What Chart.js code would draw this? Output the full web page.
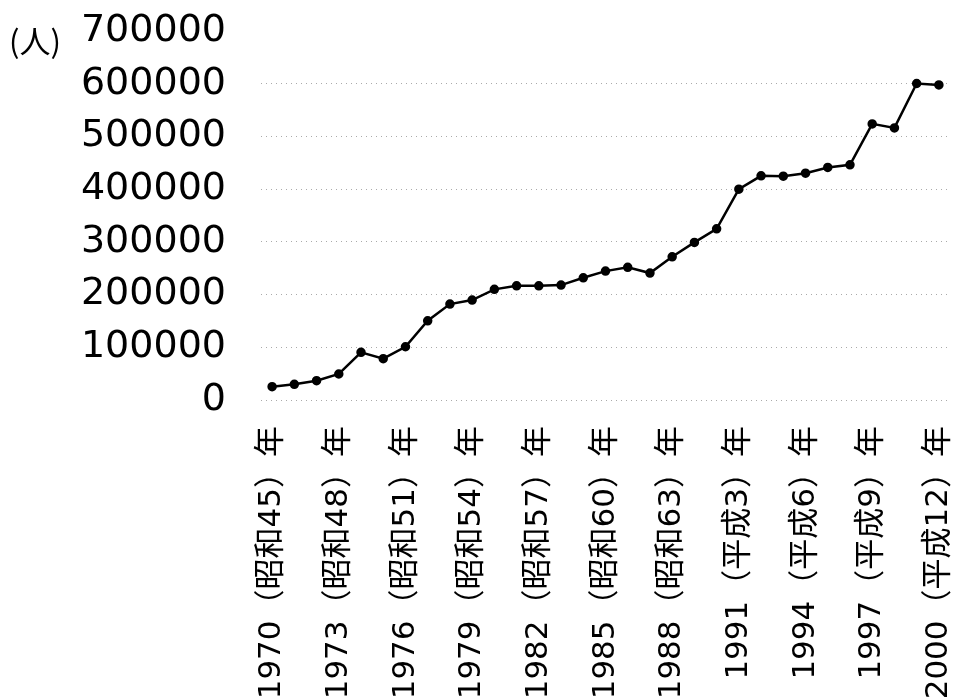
<!DOCTYPE html>
<html>
<head>
<meta charset="utf-8">
<script src="https://cdn.jsdelivr.net/npm/chart.js@4"></script>
<style>
  html, body { margin: 0; padding: 0; background: #fff; }
  #wrap { width: 957px; height: 700px; }
</style>
</head>
<body>
<div id="wrap"><canvas id="chart" width="957" height="700"></canvas></div>
<script>
const years = [
  1970, 1971, 1972, 1973, 1974, 1975, 1976, 1977, 1978, 1979,
  1980, 1981, 1982, 1983, 1984, 1985, 1986, 1987, 1988, 1989,
  1990, 1991, 1992, 1993, 1994, 1995, 1996, 1997, 1998, 1999, 2000
];
const eraLabels = [
  "昭和45", "昭和46", "昭和47", "昭和48", "昭和49", "昭和50", "昭和51", "昭和52", "昭和53", "昭和54",
  "昭和55", "昭和56", "昭和57", "昭和58", "昭和59", "昭和60", "昭和61", "昭和62", "昭和63", "平成1",
  "平成2", "平成3", "平成4", "平成5", "平成6", "平成7", "平成8", "平成9", "平成10", "平成11", "平成12"
];
const people = [
  25200, 29800, 36600, 49300, 90400, 78300, 101000, 150300, 182000, 189600,
  209900, 216700, 216700, 218000, 231800, 244500, 251600, 240800, 271700, 299000,
  324700, 400000, 425200, 424600, 430300, 441100, 446100, 523800, 516200, 600400, 597700
];
const yMax = 700000;
const yStep = 100000;
const unitLabel = "(人)";

const fontLatin = '"DejaVu Sans", "Noto Sans CJK JP", sans-serif';

// draws the unit label to the left of the top tick
const unitPlugin = {
  id: "unitLabel",
  afterDraw(chart) {
    const y = chart.scales.y;
    const ctx = chart.ctx;
    ctx.save();
    ctx.font = '31px "Noto Sans CJK JP", sans-serif';
    ctx.fillStyle = "#000";
    ctx.textAlign = "left";
    ctx.textBaseline = "middle";
    ctx.fillText(unitLabel, 9, y.getPixelForValue(yMax) + 10);
    ctx.restore();
  }
};

new Chart(document.getElementById("chart"), {
  type: "line",
  data: {
    labels: years,
    datasets: [{
      data: people,
      borderColor: "#000",
      backgroundColor: "#000",
      borderWidth: 2.5,
      pointRadius: 3.5,
      pointHoverRadius: 3.5,
      tension: 0
    }]
  },
  options: {
    responsive: false,
    animation: false,
    layout: { padding: { top: 31, right: 7, left: 0, bottom: 0 } },
    plugins: {
      legend: { display: false },
      tooltip: { enabled: false }
    },
    scales: {
      x: {
        offset: true,
        grid: { display: false, drawTicks: false },
        border: { display: false },
        afterFit(scale) {
          scale.height = 300;
          scale.paddingLeft = 0;
          scale.paddingRight = 0;
        },
        ticks: {
          autoSkip: false,
          maxRotation: 90,
          minRotation: 90,
          padding: 26,
          color: "#000",
          font: { family: fontLatin, size: 31 },
          callback(value, index) {
            if (index % 3 !== 0) return null;
            return years[index] + "（" + eraLabels[index] + "）年";
          }
        }
      },
      y: {
        min: 0,
        max: yMax,
        grid: {
          drawTicks: false,
          color: (c) => c.tick && c.tick.value === yMax ? "rgba(0,0,0,0)" : "#aaa",
          lineWidth: 1
        },
        border: { display: false, dash: [1, 4] },
        afterFit(scale) {
          scale.width = 261;
          scale.paddingTop = 0;
          scale.paddingBottom = 0;
        },
        ticks: {
          stepSize: yStep,
          padding: 35,
          color: "#000",
          font: { family: fontLatin, size: 38 },
          callback: (v) => String(v)
        }
      }
    }
  },
  plugins: [unitPlugin]
});
</script>
</body>
</html>
